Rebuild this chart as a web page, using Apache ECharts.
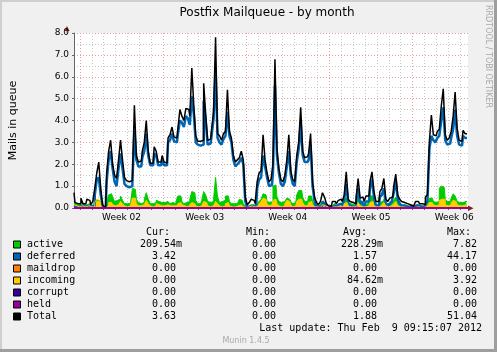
<!DOCTYPE html>
<html>
<head>
<meta charset="utf-8">
<script src="https://cdn.jsdelivr.net/npm/echarts@6/dist/echarts.min.js"></script>
<style>
html, body { margin: 0; padding: 0; background: #F0F0F0; }
#chart { width: 497px; height: 352px; }
</style>
</head>
<body>
<div id="chart"></div>
<script>
// one sample every 4 hours (6 per day)
const total = [
  0.7,0.25,0.2,0.2,0.45,0.2,0.2,0.4,0.35,0.15,
  0.3,0.9,1.6,2.1,0.9,0.1,0.05,1.6,2.6,3.1,
  2.0,1.5,1.35,2.2,3.1,2.2,1.4,1.25,1.2,1.25,
  1.4,4.7,2.4,2.1,2.15,2.6,3.0,4.0,2.6,2.05,
  2.05,2.8,2.6,2.1,2.1,2.4,2.1,2.05,3.2,3.35,
  3.7,3.25,3.2,3.65,4.5,4.2,4.0,4.55,4.5,4.2,
  6.4,4.7,3.3,3.05,3.05,3.1,5.7,4.3,3.1,3.15,
  3.6,4.4,7.8,3.4,3.3,3.1,3.4,3.5,5.4,3.5,
  3.2,2.4,2.1,2.2,2.3,2.6,2.2,0.5,0.15,0.25,
  0.4,0.35,0.2,1.2,1.6,1.7,3.35,2.2,1.6,1.2,
  1.3,2.0,6.8,2.7,1.8,1.3,1.2,1.5,2.2,3.35,
  1.7,1.3,1.2,2.4,3.0,4.6,2.6,2.3,2.35,2.5,
  3.4,1.2,0.5,0.25,0.15,0.3,0.7,0.5,0.2,0.1,
  0.08,0.3,0.3,0.2,0.35,0.4,0.3,0.6,1.65,0.4,
  0.3,0.25,0.2,0.5,1.35,0.45,0.5,0.3,0.55,0.55,
  1.2,1.65,0.75,0.3,0.3,0.75,0.9,1.35,0.4,0.3,
  0.45,0.5,1.0,1.55,0.6,0.4,0.3,0.25,0.2,0.15,
  0.15,0.08,0.08,0.3,0.3,0.2,0.2,0.15,0.5,0.6,
  3.05,4.25,3.35,3.3,3.5,3.6,4.65,5.45,3.35,3.1,
  3.2,3.5,4.2,5.3,3.65,3.1,3.05,3.55,3.4,null
];
const deferred = [
  0.1,0.05,0.05,0.05,0.1,0.05,0.05,0.1,0.1,0.05,
  0.1,0.6,1.3,1.4,0.6,0.05,0.02,1.2,2.2,2.6,
  1.8,1.2,1.0,1.8,2.5,1.8,1.1,1.0,0.95,1.0,
  1.2,3.5,2.2,1.9,1.9,2.3,2.6,3.4,2.4,1.95,
  1.95,2.5,2.4,1.95,1.95,2.2,1.95,1.95,3.0,3.1,
  3.4,3.05,3.0,3.4,4.0,3.9,3.7,4.2,4.1,3.8,
  5.1,4.3,3.0,2.9,2.85,2.9,4.9,4.0,2.9,2.95,
  3.3,4.1,6.3,3.2,3.0,2.9,3.15,3.3,4.4,3.3,
  3.0,2.2,1.9,2.0,2.1,2.3,2.0,0.3,0.05,0.05,
  0.1,0.1,0.05,0.9,1.3,1.4,2.4,1.9,1.4,1.0,
  1.05,1.6,5.6,2.4,1.6,1.1,1.0,1.2,1.9,2.6,
  1.5,1.1,1.0,2.1,2.7,3.9,2.4,2.1,2.1,2.2,
  2.9,1.0,0.3,0.05,0.05,0.1,0.3,0.2,0.05,0.02,
  0.02,0.1,0.1,0.05,0.15,0.2,0.1,0.4,1.1,0.2,
  0.1,0.05,0.05,0.3,0.9,0.2,0.3,0.1,0.3,0.3,
  0.9,1.3,0.5,0.1,0.1,0.5,0.6,0.9,0.2,0.1,
  0.2,0.3,0.7,1.3,0.4,0.2,0.1,0.1,0.05,0.05,
  0.05,0.02,0.02,0.1,0.1,0.05,0.05,0.05,0.2,0.3,
  2.7,3.3,3.1,3.0,3.2,3.3,4.0,4.6,3.1,2.9,
  2.95,3.2,3.6,4.5,3.3,2.9,2.85,3.3,3.2,null
];
const active = [
  0.3,0.2,0.15,0.15,0.2,0.15,0.15,0.2,0.2,0.1,
  0.15,0.3,0.35,0.3,0.2,0.05,0.05,0.2,0.6,0.65,
  0.5,0.3,0.35,0.4,0.55,0.35,0.2,0.2,0.2,0.25,
  0.9,0.85,0.4,0.25,0.2,0.25,0.4,0.7,0.4,0.2,
  0.2,0.25,0.35,0.3,0.25,0.2,0.25,0.3,0.25,0.2,
  0.25,0.2,0.3,0.55,0.55,0.3,0.2,0.25,0.3,0.4,
  0.75,0.7,0.35,0.2,0.2,0.35,0.75,0.6,0.3,0.25,
  0.3,0.4,1.4,0.5,0.25,0.3,0.35,0.55,0.55,0.3,
  0.2,0.2,0.2,0.25,0.4,0.35,0.2,0.1,0.1,0.15,
  0.2,0.15,0.1,0.2,0.3,0.4,0.65,0.6,0.3,0.25,
  0.3,1.0,1.05,0.5,0.3,0.25,0.3,0.35,0.45,0.4,
  0.3,0.2,0.25,0.6,0.8,0.8,0.5,0.3,0.3,0.55,
  0.55,0.3,0.15,0.15,0.1,0.2,0.3,0.25,0.15,0.1,
  0.1,0.15,0.2,0.15,0.2,0.25,0.2,0.45,0.45,0.25,
  0.2,0.15,0.15,0.3,0.55,0.3,0.2,0.15,0.2,0.25,
  0.55,0.55,0.3,0.15,0.15,0.25,0.3,0.4,0.2,0.2,
  0.2,0.25,0.35,0.5,0.3,0.2,0.15,0.15,0.1,0.1,
  0.1,0.05,0.05,0.15,0.15,0.1,0.1,0.1,0.2,0.25,
  0.45,0.45,0.3,0.25,0.3,0.9,1.0,0.95,0.4,0.3,
  0.3,0.45,0.65,0.55,0.3,0.25,0.25,0.3,0.3,null
];
const incoming = [
  0.15,0.1,0.05,0.05,0.1,0.05,0.05,0.1,0.1,0.05,
  0.05,0.25,0.4,0.35,0.15,0.02,0.02,0.1,0.25,0.25,
  0.15,0.1,0.15,0.2,0.3,0.2,0.1,0.05,0.1,0.1,
  0.45,0.45,0.2,0.1,0.1,0.15,0.2,0.35,0.2,0.1,
  0.05,0.1,0.2,0.15,0.1,0.1,0.1,0.15,0.1,0.1,
  0.1,0.05,0.1,0.2,0.25,0.15,0.1,0.05,0.1,0.15,
  0.25,0.2,0.1,0.05,0.1,0.15,0.3,0.25,0.1,0.05,
  0.1,0.15,0.3,0.2,0.1,0.05,0.1,0.2,0.25,0.1,
  0.05,0.05,0.05,0.1,0.15,0.15,0.05,0.02,0.05,0.05,
  0.1,0.05,0.02,0.1,0.2,0.3,0.45,0.4,0.2,0.1,
  0.15,0.35,0.4,0.2,0.1,0.05,0.1,0.2,0.35,0.3,
  0.15,0.05,0.1,0.3,0.4,0.4,0.25,0.1,0.1,0.25,
  0.3,0.15,0.05,0.05,0.02,0.05,0.15,0.1,0.05,0.02,
  0.02,0.05,0.05,0.05,0.1,0.1,0.05,0.2,0.25,0.1,
  0.05,0.05,0.05,0.1,0.25,0.1,0.05,0.05,0.1,0.1,
  0.25,0.3,0.1,0.05,0.05,0.1,0.15,0.25,0.1,0.05,
  0.1,0.1,0.2,0.3,0.1,0.05,0.05,0.05,0.02,0.02,
  0.02,0.02,0.02,0.05,0.05,0.02,0.02,0.02,0.1,0.15,
  0.25,0.25,0.15,0.1,0.15,0.35,0.4,0.4,0.15,0.1,
  0.15,0.25,0.35,0.3,0.15,0.1,0.1,0.15,0.15,null
];
// maildrop, corrupt and held stay at 0.00 the whole month
const maildrop = total.map(() => 0);
const corrupt = total.map(() => 0);
const held = total.map(() => 0);

const categories = total.map((_, i) => i);
const weekLabels = ['Week 02', 'Week 03', 'Week 04', 'Week 05', 'Week 06'];
const perDay = 6;        // samples per day
const firstMidnight = 3; // sample index of first day line
const firstLabel = 24;   // sample index of "Week 02" label (mid week)

const legendNames = ['active', 'deferred', 'maildrop', 'incoming', 'corrupt', 'held', 'Total'];
const legendColors = ['#00CC00', '#0066B3', '#FF8000', '#FFCC00', '#330099', '#990099', '#000000'];
const curVals = ['209.54m', '3.42', '0.00', '0.00', '0.00', '0.00', '3.63'];
const minVals = ['0.00', '0.00', '0.00', '0.00', '0.00', '0.00', '0.00'];
const avgVals = ['228.29m', '1.57', '0.00', '84.62m', '0.00', '0.00', '1.88'];
const maxVals = ['7.82', '44.17', '0.00', '3.92', '0.00', '0.00', '51.04'];

const mono = '"DejaVu Sans Mono"';
const sans = '"DejaVu Sans"';

function fmt(s) {
  return (/[a-z]$/.test(s) ? s : s + ' ').padStart(7, ' ');
}

const chart = echarts.init(document.getElementById('chart'));

function txt(x, y, text, o) {
  return {
    type: 'text', x: x, y: y, silent: true,
    rotation: (o && o.rotation) || 0,
    style: Object.assign({
      text: text, fill: '#000', fontSize: 10, fontFamily: mono,
      align: 'left', verticalAlign: 'middle'
    }, o && o.style)
  };
}

const graphics = [
  { type: 'rect', shape: { x: 0, y: 0, width: 497, height: 2 }, style: { fill: '#CFCFCF' } },
  { type: 'rect', shape: { x: 0, y: 0, width: 2, height: 352 }, style: { fill: '#CFCFCF' } },
  { type: 'rect', shape: { x: 494, y: 0, width: 3, height: 352 }, style: { fill: '#9E9E9E' } },
  { type: 'rect', shape: { x: 0, y: 349, width: 497, height: 3 }, style: { fill: '#9E9E9E' } },
  txt(267, 13, 'Postfix Mailqueue - by month', { style: { fontFamily: sans, fontSize: 12, align: 'center' } }),
  txt(488, 5, 'RRDTOOL / TOBI OETIKER', { rotation: -Math.PI / 2, style: { fontFamily: sans, fontSize: 8, fill: '#A8A8A8' } }),
  { type: 'line', shape: { x1: 67, y1: 31, x2: 67, y2: 33 }, style: { stroke: '#666', lineWidth: 1 } },
  { type: 'polygon', shape: { points: [[64.5, 31], [69.5, 31], [67, 26]] }, style: { fill: '#802020' } },
  { type: 'polygon', shape: { points: [[468, 205.5], [468, 211], [473.5, 208.3]] }, style: { fill: '#802020' } },
  txt(146, 232.5, 'Cur:'),
  txt(246, 232.5, 'Min:'),
  txt(343, 232.5, 'Avg:'),
  txt(447, 232.5, 'Max:'),
  txt(482, 328, 'Last update: Thu Feb  9 09:15:07 2012', { style: { align: 'right' } }),
  txt(246, 341, 'Munin 1.4.5', { style: { fontFamily: sans, fontSize: 8, fill: '#AAAAAA', align: 'center' } })
];

legendNames.forEach((name, k) => {
  const y = 244.5 + 12 * k;
  graphics.push({
    type: 'rect', shape: { x: 13.5, y: y - 3.5, width: 7, height: 7 },
    style: { fill: legendColors[k], stroke: '#000', lineWidth: 1 }
  });
  graphics.push(txt(27, y, name));
  graphics.push(txt(140, y, fmt(curVals[k])));
  graphics.push(txt(240, y, fmt(minVals[k])));
  graphics.push(txt(341, y, fmt(avgVals[k])));
  graphics.push(txt(441, y, fmt(maxVals[k])));
});

function line(name, data, color, width, area) {
  const s = {
    name: name, type: 'line', data: data, step: 'middle',
    symbol: 'none', silent: true,
    lineStyle: { color: color, width: width },
    itemStyle: { color: color }
  };
  if (area) s.areaStyle = { color: color, opacity: 1 };
  return s;
}

chart.setOption({
  animation: false,
  backgroundColor: '#F0F0F0',
  grid: { left: 67, right: 29, top: 33, bottom: 144, show: true, backgroundColor: '#FFFFFF', borderWidth: 0 },
  xAxis: [
    {
      type: 'category', data: categories, boundaryGap: false, position: 'bottom',
      axisLine: { show: true, lineStyle: { color: '#666', width: 1 } },
      axisTick: { show: true, length: 2, interval: (i) => (i - firstMidnight) % perDay === 0, lineStyle: { color: '#666' } },
      axisLabel: {
        interval: (i) => i >= firstLabel && (i - firstLabel) % (7 * perDay) === 0,
        formatter: (v, i) => weekLabels[(i - firstLabel) / (7 * perDay)] || '',
        fontFamily: sans, fontSize: 9, color: '#000', margin: 5
      },
      splitLine: {
        show: true,
        interval: (i) => (i - firstMidnight) % perDay === 0,
        lineStyle: { color: '#C8C8C8', type: [1, 2], width: 1 }
      }
    },
    {
      type: 'category', data: categories, boundaryGap: false, position: 'bottom',
      axisLine: { show: false }, axisTick: { show: false }, axisLabel: { show: false },
      splitLine: {
        show: true,
        interval: (i) => (i - firstMidnight) % (7 * perDay) === 0,
        lineStyle: { color: '#E8A0A0', type: [1, 2], width: 1 }
      }
    }
  ],
  yAxis: [
    {
      type: 'value', min: 0, max: 8, interval: 0.5, position: 'left',
      axisLine: { show: false }, axisTick: { show: false }, axisLabel: { show: false },
      splitLine: { show: true, lineStyle: { color: '#C8C8C8', type: [1, 2], width: 1 } }
    },
    {
      type: 'value', min: 0, max: 8, interval: 1, position: 'left',
      name: 'Mails in queue', nameLocation: 'middle', nameGap: 55, nameRotate: 90,
      nameTextStyle: { fontFamily: sans, fontSize: 11, color: '#000' },
      axisLine: { show: true, lineStyle: { color: '#666', width: 1 } },
      axisTick: { show: true, length: 2, lineStyle: { color: '#666' } },
      axisLabel: { formatter: (v) => v.toFixed(1), fontFamily: sans, fontSize: 9, color: '#000', margin: 5 },
      splitLine: { show: true, lineStyle: { color: '#E8A0A0', type: [1, 2], width: 1 } }
    }
  ],
  series: [
    line('active', active, '#00CC00', 1, true),
    line('deferred', deferred, '#0066B3', 2.5, false),
    line('maildrop', maildrop, '#FF8000', 2, false),
    line('incoming', incoming, '#FFCC00', 1, true),
    line('corrupt', corrupt, '#330099', 2, false),
    line('held', held, '#990099', 2, false),
    line('Total', total, '#000000', 1.5, false)
  ],
  graphic: graphics
});
</script>
</body>
</html>
